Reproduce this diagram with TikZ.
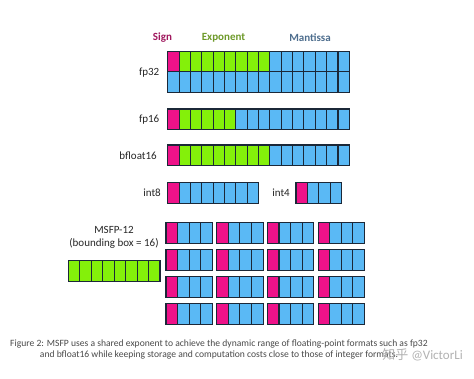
\documentclass[tikz,border=0pt]{standalone}
\usepackage{fontspec}
\setmainfont{Carlito}
\newfontfamily\cjk{Noto Sans CJK SC}
\definecolor{sgn}{HTML}{EE1289}
\definecolor{expc}{HTML}{84F00A}
\definecolor{man}{HTML}{5AB9F5}
\definecolor{edge}{HTML}{1B2838}
\definecolor{signlab}{HTML}{A0185E}
\definecolor{explab}{HTML}{6E9A2A}
\definecolor{manlab}{HTML}{4E6E8E}
\definecolor{captxt}{HTML}{4A4A4A}
\tikzset{
  cellst/.style={draw=edge,line width=1.1pt},
  head/.style={font=\fontsize{11}{13}\selectfont\bfseries,inner sep=0pt},
  fmtlab/.style={font=\fontsize{11}{13}\selectfont,text=black!85,inner sep=0pt},
  captext/.style={font=\fontsize{9.6}{11}\selectfont,text=captxt,inner sep=0pt},
}
% #1 x, #2 y, #3 cell width, #4 cell height, #5 list of colours
\newcommand\bitrow[5]{%
  \foreach \c [count=\k from 0] in {#5}{%
    \filldraw[cellst,fill=\c] ({#1+\k*#3},{#2}) rectangle ++(#3,#4);}}
\begin{document}
\begin{tikzpicture}[x=1pt,y=-1pt]
\useasboundingbox[fill=white] (0,0) rectangle (474,379);
% headers
\node[head,text=signlab] (hsign) at (162.5,38) {Sign};
\node[head,text=explab] (hexp) at (223.5,38) {Exponent};
\node[head,text=manlab] (hman) at (310,38) {Mantissa};
% fp32
\node[fmtlab,anchor=east] (lfp32) at (159.5,73) {fp32};
\bitrow{167.7}{51.2}{11.35}{20.7}{sgn,expc,expc,expc,expc,expc,expc,expc,expc,man,man,man,man,man,man,man}
\bitrow{167.7}{71.9}{11.35}{20.7}{man,man,man,man,man,man,man,man,man,man,man,man,man,man,man,man}
% fp16
\node[fmtlab,anchor=east] (lfp16) at (159.5,120) {fp16};
\bitrow{167.7}{109}{11.35}{20.7}{sgn,expc,expc,expc,expc,expc,man,man,man,man,man,man,man,man,man,man}
% bfloat16
\node[fmtlab,anchor=east] (lbf16) at (157,155.5) {bfloat16};
\bitrow{167.7}{145}{11.35}{20.7}{sgn,expc,expc,expc,expc,expc,expc,expc,expc,man,man,man,man,man,man,man}
% int8 / int4
\node[fmtlab,anchor=east] (lint8) at (161,193) {int8};
\bitrow{167.7}{182.3}{11.35}{21}{sgn,man,man,man,man,man,man,man}
\node[fmtlab,anchor=east] (lint4) at (290,193) {int4};
\bitrow{296}{182.3}{11.35}{21}{sgn,man,man,man}
% MSFP
\node[fmtlab] (lmsfp) at (114,230) {MSFP-12};
\node[fmtlab] (lbb) at (114,243.5) {(bounding box = 16)};
\bitrow{68.3}{260.7}{11.46}{21}{expc,expc,expc,expc,expc,expc,expc,expc}
\foreach \bx in {166,216.7,267.4,318.1}{
  \foreach \by in {222.3,249.3,276.3,303.3}{
    \bitrow{\bx}{\by}{11.6}{21}{sgn,man,man,man}
  }
}
% caption
\node[captext] (cap1) at (219,343.5) {Figure 2: MSFP uses a shared exponent to achieve the dynamic range of floating-point formats such as fp32};
\node[captext] (cap2) at (219,355) {and bfloat16 while keeping storage and computation costs close to those of integer formats.};
\node[inner sep=0pt,text=black!30,font=\fontsize{13}{15}\selectfont,anchor=east] (wm) at (463,355) {{\cjk 知乎} @VictorLi};
\end{tikzpicture}
\end{document}
